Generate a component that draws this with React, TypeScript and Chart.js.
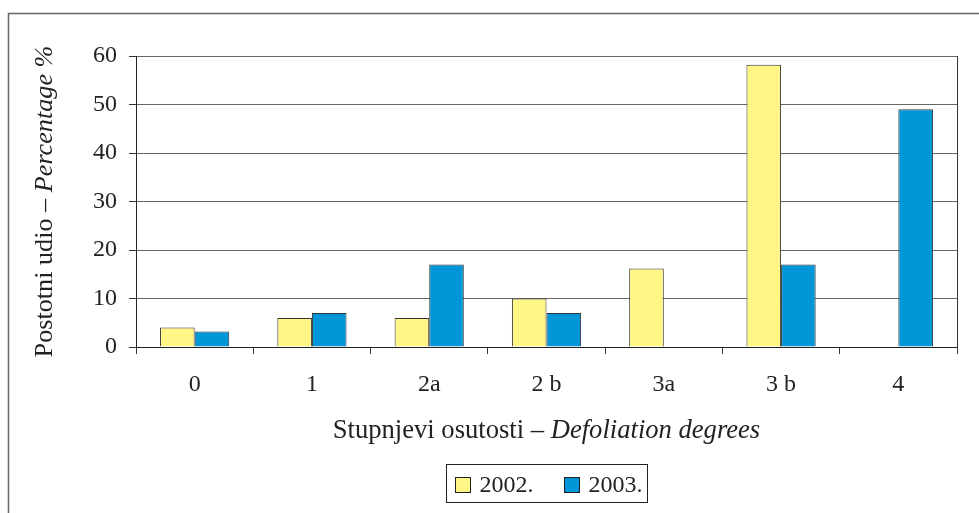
import React, { useEffect, useRef } from "react";
import { Chart, registerables } from "chart.js";

Chart.register(...registerables);

const categories = ["0", "1", "2a", "2 b", "3a", "3 b", "4"];
const series2002 = [4, 6, 6, 10, 16.2, 58.2, null];
const series2003 = [3.2, 7, 17, 7, null, 17, 49];
const seriesLabels = ["2002.", "2003."];
const yTitleNormal = "Postotni udio – ";
const yTitleItalic = "Percentage %";
const xTitleNormal = "Stupnjevi osutosti – ";
const xTitleItalic = "Defoliation degrees";

const FONT = "'Liberation Serif', 'Times New Roman', serif";
const YELLOW = "#FFF685";
const BLUE = "#0096D8";

const decorPlugin = {
  id: "decor",
  afterDraw(chart: any) {
    const ctx = chart.ctx as CanvasRenderingContext2D;
    const area = chart.chartArea;
    ctx.save();
    // outer frame
    ctx.strokeStyle = "#666";
    ctx.lineWidth = 1.5;
    ctx.strokeRect(8.5, 13.5, 1000, 600);
    // right frame of plot
    ctx.strokeStyle = "#333";
    ctx.lineWidth = 1;
    ctx.beginPath();
    ctx.moveTo(Math.round(area.right) + 0.5, area.top);
    ctx.lineTo(Math.round(area.right) + 0.5, area.bottom + 7);
    ctx.stroke();

    ctx.fillStyle = "#222";
    // y title
    const fs = 26.2;
    const nFont = `${fs}px ${FONT}`;
    const iFont = `italic ${fs}px ${FONT}`;
    ctx.font = nFont;
    const w1 = ctx.measureText(yTitleNormal).width;
    ctx.font = iFont;
    const w2 = ctx.measureText(yTitleItalic).width;
    const cy = (area.top + area.bottom) / 2;
    ctx.save();
    ctx.translate(52, cy);
    ctx.rotate(-Math.PI / 2);
    ctx.textBaseline = "alphabetic";
    ctx.textAlign = "left";
    const start = -(w1 + w2) / 2;
    ctx.font = nFont;
    ctx.fillText(yTitleNormal, start, 0);
    ctx.font = iFont;
    ctx.fillText(yTitleItalic, start + w1, 0);
    ctx.restore();

    // x title
    const xfs = 26.6;
    const xnFont = `${xfs}px ${FONT}`;
    const xiFont = `italic ${xfs}px ${FONT}`;
    ctx.font = xnFont;
    const x1 = ctx.measureText(xTitleNormal).width;
    ctx.font = xiFont;
    const x2 = ctx.measureText(xTitleItalic).width;
    const cx = (area.left + area.right) / 2;
    const xs = cx - (x1 + x2) / 2;
    ctx.textBaseline = "alphabetic";
    ctx.textAlign = "left";
    ctx.font = xnFont;
    ctx.fillText(xTitleNormal, xs, 438);
    ctx.font = xiFont;
    ctx.fillText(xTitleItalic, xs + x1, 438);

    // legend
    const lf = `24px ${FONT}`;
    ctx.font = lf;
    const ds = chart.data.datasets;
    const sq = 15;
    const gapSqText = 10;
    const itemGap = 30;
    const padX = 8;
    const widths = ds.map((d: any) => sq + gapSqText + ctx.measureText(d.label).width);
    const total = 201;
    const bx = Math.round(cx - total / 2) + 0.5;
    const by = 464.5;
    const bh = 38;
    ctx.strokeStyle = "#222";
    ctx.lineWidth = 1;
    ctx.strokeRect(bx, by, total, bh);
    let x = bx + padX;
    ds.forEach((d: any, i: number) => {
      ctx.fillStyle = d.backgroundColor;
      ctx.fillRect(Math.round(x) + 0.5, 477.5, sq, sq);
      ctx.strokeStyle = "#222";
      ctx.strokeRect(Math.round(x) + 0.5, 477.5, sq, sq);
      ctx.fillStyle = "#222";
      ctx.fillText(d.label, x + sq + gapSqText, 492);
      x += widths[i] + itemGap;
    });
    ctx.restore();
  },
};

export default function App() {
  const ref = useRef<HTMLCanvasElement>(null);
  useEffect(() => {
    if (!ref.current) return;
    const chart = new Chart(ref.current, {
      type: "bar",
      data: {
        labels: categories,
        datasets: [
          {
            label: seriesLabels[0],
            data: series2002,
            backgroundColor: YELLOW,
            borderColor: "#333",
            borderWidth: 1,
            barPercentage: 1,
            categoryPercentage: 0.59,
          },
          {
            label: seriesLabels[1],
            data: series2003,
            backgroundColor: BLUE,
            borderColor: "#333",
            borderWidth: 1,
            barPercentage: 1,
            categoryPercentage: 0.59,
          },
        ],
      },
      options: {
        responsive: false,
        animation: false,
        layout: { padding: { left: 0, right: 22, top: 56, bottom: 100 } },
        plugins: { legend: { display: false }, tooltip: { enabled: false } },
        scales: {
          x: {
            offset: true,
            grid: {
              offset: true,
              drawOnChartArea: false,
              drawTicks: true,
              tickLength: 7,
              color: "#333",
            },
            border: { color: "#222", width: 1 },
            ticks: {
              color: "#222",
              font: { family: FONT, size: 24 },
              padding: 16,
            },
            afterFit: (s: any) => {
              s.height = 66;
            },
          },
          y: {
            min: 0,
            max: 60,
            ticks: {
              stepSize: 10,
              color: "#222",
              font: { family: FONT, size: 24 },
              padding: 12,
            },
            grid: { color: "#666", lineWidth: 1, tickLength: 7, tickColor: "#333" },
            border: { color: "#222", width: 1 },
            afterFit: (s: any) => {
              s.width = 136;
            },
          },
        },
      },
      plugins: [decorPlugin],
    });
    return () => chart.destroy();
  }, []);
  return (
    <div style={{ position: "fixed", left: 0, top: 0, width: 979, height: 513, background: "#fff" }}>
      <canvas ref={ref} width={979} height={513} style={{ display: "block" }} />
    </div>
  );
}
